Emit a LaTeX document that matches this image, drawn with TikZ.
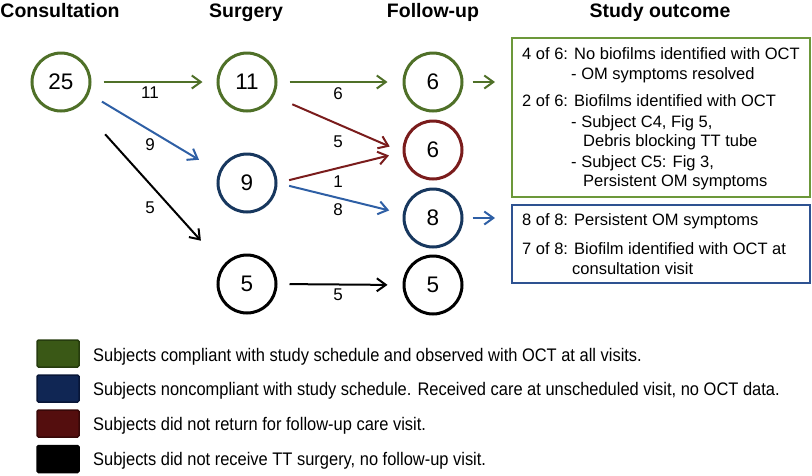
\documentclass[tikz,border=0pt]{standalone}
\usepackage{fontspec}
\setmainfont{Liberation Sans}
\newfontfamily\narrowfont[FakeStretch=0.904]{Liberation Sans}
\usetikzlibrary{arrows.meta}
\definecolor{cgreen}{RGB}{79,112,40}
\definecolor{cgreenbox}{RGB}{108,152,58}
\definecolor{cblue}{RGB}{23,55,94}
\definecolor{cbluearr}{RGB}{46,95,165}
\definecolor{cbluebox}{RGB}{46,82,145}
\definecolor{cred}{RGB}{122,28,28}
\definecolor{lgreen}{RGB}{58,88,22}
\definecolor{lgreenb}{RGB}{38,60,14}
\definecolor{lblue}{RGB}{16,38,84}
\definecolor{lblueb}{RGB}{8,22,55}
\definecolor{lred}{RGB}{84,14,14}
\definecolor{lredb}{RGB}{55,8,8}
\tikzset{
  x=1pt,y=-1pt,
  title/.style={anchor=base,inner sep=0,font=\fontsize{19.5}{22}\selectfont\bfseries},
  count/.style={circle,minimum size=58pt,inner sep=0,line width=3pt,font=\fontsize{22.5}{24}\selectfont},
  flow/.style={line width=2pt,-{Straight Barb[length=9pt,width=13pt,line width=2pt]}},
  elab/.style={inner sep=0,font=\fontsize{17}{19}\selectfont},
  boxtext/.style={anchor=base west,inner sep=0,font=\fontsize{16.5}{19}\selectfont},
  outbox/.style={rectangle,minimum width=298pt,inner sep=0,line width=2pt},
  legsq/.style={rectangle,minimum width=42pt,minimum height=27pt,inner sep=0,line width=1.5pt,rounded corners=1.5pt},
  legtext/.style={anchor=base west,inner sep=0,font=\fontsize{18.2}{20}\narrowfont},
}
\begin{document}
\begin{tikzpicture}
\useasboundingbox (0,0) rectangle (812,475);
% titles
\node[title] (t1) at (60,17) {Consultation};
\node[title] (t2) at (246,17) {Surgery};
\node[title] (t3) at (433,17) {Follow-up};
\node[title] (t4) at (660,17) {Study outcome};
% circles
\node[count,draw=cgreen] (c25) at (61,82) {25};
\node[count,draw=cgreen] (s11) at (247,82) {11};
\node[count,draw=cblue] (s9) at (247,183) {9};
\node[count,draw=black] (s5) at (247,284) {5};
\node[count,draw=cgreen] (f6g) at (433,82) {6};
\node[count,draw=cred] (f6r) at (433,150) {6};
\node[count,draw=cblue] (f8) at (433,218) {8};
\node[count,draw=black] (f5) at (433,285) {5};
% outcome boxes
\node[outbox,draw=cgreenbox,minimum height=159pt] (gbox) at (661,117.5) {};
\node[outbox,draw=cbluebox,minimum height=78pt] (bbox) at (661,244) {};
% flows
\draw[flow,cgreen,shorten <=12pt,shorten >=14pt] (c25.east) -- (s11.west);
\draw[flow,cbluearr,shorten <=15pt,shorten >=23pt] (c25.-23) -- (s9.158);
\draw[flow,black,shorten <=38pt,shorten >=33pt] (c25.-52) -- (s5.142);
\draw[flow,cgreen,shorten <=12pt,shorten >=15pt] (s11.east) -- (f6g.west);
\draw[flow,cred,shorten <=20pt,shorten >=14pt] (s11.-28.6) -- (f6r.184);
\draw[flow,cred,shorten <=12pt,shorten >=14pt] (s9.east) -- (f6r.184);
\draw[flow,cbluearr,shorten <=12pt,shorten >=14pt] (s9.east) -- (f8.172);
\draw[flow,black,shorten <=12pt,shorten >=15pt] (s5.east) -- (f5.west);
\draw[flow,cgreen,shorten <=9pt,shorten >=16pt] (f6g.east) -- (f6g.east -| gbox.west);
\draw[flow,cbluearr,shorten <=9pt,shorten >=16pt] (f8.east) -- (f8.east -| bbox.west);
% flow labels
\node[elab] (l1) at (150,93) {11};
\node[elab] (l2) at (150,145) {9};
\node[elab] (l3) at (150,208) {5};
\node[elab] (l4) at (338,94) {6};
\node[elab] (l5) at (338,142) {5};
\node[elab] (l6) at (338,182) {1};
\node[elab] (l7) at (338,210) {8};
\node[elab] (l8) at (338,295) {5};
% green box text
\node[boxtext] (g1) at (522,59) {4 of 6: No biofilms identified with OCT};
\node[boxtext] (g2) at (571,79) {- OM symptoms resolved};
\node[boxtext] (g3) at (522,106) {2 of 6: Biofilms identified with OCT};
\node[boxtext] (g4) at (571,127) {- Subject C4, Fig 5,};
\node[boxtext] (g5) at (583,146) {Debris blocking TT tube};
\node[boxtext] (g6) at (571,167) {- Subject C5: Fig 3,};
\node[boxtext] (g7) at (583,186) {Persistent OM symptoms};
% blue box text
\node[boxtext] (b1) at (522,225) {8 of 8: Persistent OM symptoms};
\node[boxtext] (b2) at (522,254) {7 of 8: Biofilm identified with OCT at};
\node[boxtext] (b3) at (572,274) {consultation visit};
% legend
\node[legsq,fill=lgreen,draw=lgreenb] (q1) at (58,353.5) {};
\node[legsq,fill=lblue,draw=lblueb] (q2) at (58,388.5) {};
\node[legsq,fill=lred,draw=lredb] (q3) at (58,423.5) {};
\node[legsq,fill=black,draw=black] (q4) at (58,459) {};
\node[legtext] (x1) at (93,361) {Subjects compliant with study schedule and observed with OCT at all visits.};
\node[legtext] (x2) at (93,395) {Subjects noncompliant with study schedule. Received care at unscheduled visit, no OCT data.};
\node[legtext] (x3) at (93,430) {Subjects did not return for follow-up care visit.};
\node[legtext] (x4) at (93,465) {Subjects did not receive TT surgery, no follow-up visit.};
\end{tikzpicture}
\end{document}
